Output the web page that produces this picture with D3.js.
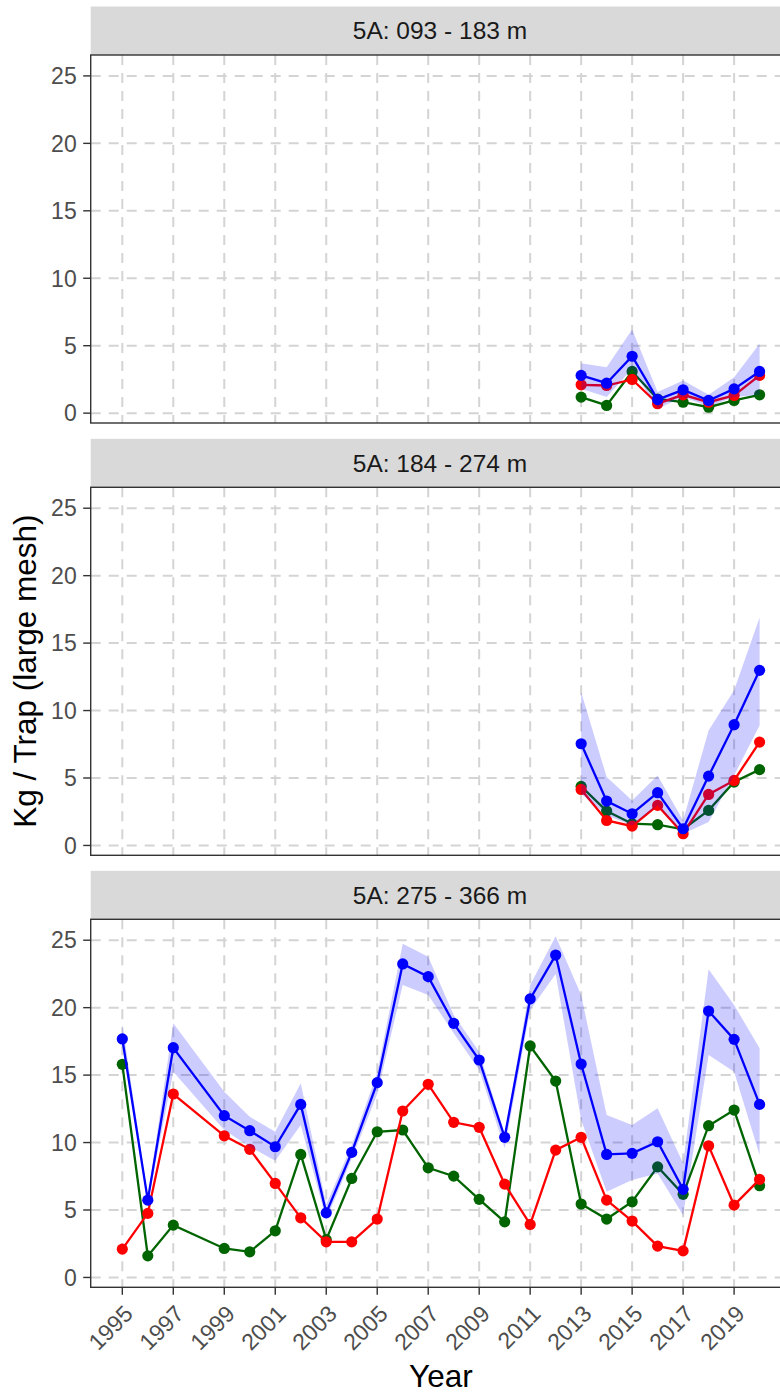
<!DOCTYPE html>
<html>
<head>
<meta charset="utf-8">
<script src="https://cdn.jsdelivr.net/npm/d3@7"></script>
<style>
  body { margin: 0; background: #fff; }
  svg { display: block; font-family: "Liberation Sans", Arial, sans-serif; }
</style>
</head>
<body>
<div id="chart"></div>
<script>
// depth strata, one panel each
const strata = ['5A: 093 - 183 m', '5A: 184 - 274 m', '5A: 275 - 366 m']

// 093 - 183 m
const years_shallow = [2013, 2014, 2015, 2016, 2017, 2018, 2019, 2020]
const blue_shallow  = [2.8, 2.22, 4.22, 1.01, 1.73, 0.94, 1.8, 3.09]
const red_shallow   = [2.1, 2.05, 2.5, 0.7, 1.36, 0.81, 1.31, 2.8]
const green_shallow = [1.19, 0.57, 3.09, 1.05, 0.81, 0.44, 0.94, 1.36]
const lo_shallow    = [1.8, 1.19, 3.3, 0.33, 1.19, 0.5, 1.19, 1.36]
const hi_shallow    = [3.7, 3.4, 6.2, 1.56, 2.42, 1.36, 2.67, 5.14]

// 184 - 274 m
const years_mid = [2013, 2014, 2015, 2016, 2017, 2018, 2019, 2020]
const blue_mid  = [7.54, 3.29, 2.35, 3.91, 1.24, 5.14, 8.95, 12.98]
const red_mid   = [4.15, 1.85, 1.43, 2.97, 0.87, 3.78, 4.82, 7.66]
const green_mid = [4.38, 2.55, 1.61, 1.54, 1.2, 2.6, 4.7, 5.62]
const lo_mid    = [3.84, 2.23, 1.48, 2.97, 0.87, 1.73, 5.19, 8.9]
const hi_mid    = [11.37, 5.07, 3.34, 5.19, 1.85, 8.53, 11.5, 16.89]

// 275 - 366 m (no 1998 survey)
const years_deep = [1995, 1996, 1997, 1999, 2000, 2001, 2002, 2003, 2004, 2005, 2006, 2007, 2008,
                    2009, 2010, 2011, 2012, 2013, 2014, 2015, 2016, 2017, 2018, 2019, 2020]
const blue_deep  = [17.68, 5.73, 17.03, 11.99, 10.88, 9.69, 12.83, 4.79, 9.27, 14.44, 23.24, 22.3, 18.84,
                    16.12, 10.39, 20.65, 23.9, 15.82, 9.12, 9.2, 10.06, 6.53, 19.75, 17.65, 12.83]
const red_deep   = [2.1, 4.75, 13.6, 10.5, 9.5, 6.97, 4.42, 2.64, 2.64, 4.33, 12.34, 14.32, 11.5,
                    11.13, 6.92, 3.93, 9.44, 10.39, 5.73, 4.18, 2.32, 1.97, 9.76, 5.36, 7.27]
const green_deep = [15.8, 1.6, 3.88, 2.15, 1.9, 3.46, 9.12, 2.8, 7.34, 10.8, 10.93, 8.13, 7.51,
                    5.79, 4.12, 17.16, 14.56, 5.44, 4.33, 5.61, 8.2, 6.16, 11.25, 12.41, 6.8]
const lo_deep    = [17.4, 5.55, 15.25, 10.93, 9.69, 8.65, 11.3, 4.3, 8.8, 13.6, 21.68, 20.94, 18.1,
                    15.38, 9.57, 19.83, 22.5, 11.67, 6.35, 7.22, 7.71, 4.62, 16.49, 15.25, 9.07]
const hi_deep    = [18.8, 6.0, 18.84, 13.77, 11.91, 10.8, 14.39, 5.4, 9.8, 15.2, 24.73, 23.78, 19.46,
                    16.74, 10.68, 21.68, 25.3, 20.94, 12.04, 11.3, 12.54, 8.46, 22.85, 20.2, 16.99]

const y_ticks = [0, 5, 10, 15, 20, 25]
const x_ticks = [1995, 1997, 1999, 2001, 2003, 2005, 2007, 2009, 2011, 2013, 2015, 2017, 2019]

const panels = [
  {label: strata[0], years: years_shallow, blue: blue_shallow, red: red_shallow, green: green_shallow, lo: lo_shallow, hi: hi_shallow},
  {label: strata[1], years: years_mid, blue: blue_mid, red: red_mid, green: green_mid, lo: lo_mid, hi: hi_mid},
  {label: strata[2], years: years_deep, blue: blue_deep, red: red_deep, green: green_deep, lo: lo_deep, hi: hi_deep}
]

const svg_width = 780
const svg_height = 1395
const plot_left = 90.7
const plot_right = 791.2   // right edge falls just outside the picture
const panel_tops = [55, 487.3, 919.3]
const panel_height = 368
const strip_height = 48.5

const xScale = d3.scaleLinear()
        .domain([1993.76, 2021.24])
        .range([plot_left, plot_right])

const yScale = d3.scaleLinear()
        .domain([-0.73, 26.55])
        .range([panel_height, 0])

const series = [
  {key: 'green', color: '#006400'},
  {key: 'red', color: '#ff0000'},
  {key: 'blue', color: '#0000ff'}
]

const svg = d3.select('#chart')
            .append('svg')
            .attr('width', svg_width)
            .attr('height', svg_height)

panels.forEach((p, i) => {
  const top = panel_tops[i]
  const rows = p.years.map((yr, j) => ({year: yr, blue: p.blue[j], red: p.red[j], green: p.green[j], lo: p.lo[j], hi: p.hi[j]}))

  // strip
  svg.append('rect')
      .attr('x', plot_left)
      .attr('y', top - strip_height)
      .attr('width', plot_right - plot_left)
      .attr('height', strip_height)
      .attr('fill', '#d9d9d9')
  svg.append('text')
      .attr('x', (plot_left + plot_right) / 2 - 1)
      .attr('y', top - strip_height / 2)
      .attr('dy', '0.35em')
      .attr('text-anchor', 'middle')
      .attr('font-size', '24.5px')
      .attr('fill', '#1a1a1a')
      .text(p.label)

  const g = svg.append('g').attr('transform', `translate(0,${top})`)

  // grid
  g.selectAll('line.hgrid')
    .data(y_ticks)
    .join('line')
      .attr('class', 'hgrid')
      .attr('x1', plot_left).attr('x2', plot_right)
      .attr('y1', d => yScale(d)).attr('y2', d => yScale(d))
  g.selectAll('line.vgrid')
    .data(x_ticks)
    .join('line')
      .attr('class', 'vgrid')
      .attr('x1', d => xScale(d)).attr('x2', d => xScale(d))
      .attr('y1', 0).attr('y2', panel_height)
  g.selectAll('line.hgrid, line.vgrid')
      .attr('stroke', '#d4d4d4')
      .attr('stroke-width', 2)
      .attr('stroke-dasharray', '10,8')

  // lines and points
  series.forEach(s => {
    const line = d3.line()
        .x(d => xScale(d.year))
        .y(d => yScale(d[s.key]))
    g.append('path')
        .datum(rows)
        .attr('d', line)
        .attr('fill', 'none')
        .attr('stroke', s.color)
        .attr('stroke-width', 2.3)
    g.selectAll(`circle.${s.key}`)
      .data(rows)
      .join('circle')
        .attr('class', s.key)
        .attr('cx', d => xScale(d.year))
        .attr('cy', d => yScale(d[s.key]))
        .attr('r', 5.6)
        .attr('fill', s.color)
  })

  // confidence ribbon drawn on top, semi transparent
  const area = d3.area()
      .x(d => xScale(d.year))
      .y0(d => yScale(d.lo))
      .y1(d => yScale(d.hi))
  g.append('path')
      .datum(rows)
      .attr('d', area)
      .attr('fill', '#0000ff')
      .attr('fill-opacity', 0.2)

  // panel border
  g.append('rect')
      .attr('x', plot_left)
      .attr('y', 0)
      .attr('width', plot_right - plot_left)
      .attr('height', panel_height)
      .attr('fill', 'none')
      .attr('stroke', '#333333')
      .attr('stroke-width', 1.4)

  // y axis ticks + labels
  g.selectAll('line.ytick')
    .data(y_ticks)
    .join('line')
      .attr('class', 'ytick')
      .attr('x1', plot_left - 7.5).attr('x2', plot_left)
      .attr('y1', d => yScale(d)).attr('y2', d => yScale(d))
      .attr('stroke', '#333333')
      .attr('stroke-width', 1.4)
  g.selectAll('text.ylab')
    .data(y_ticks)
    .join('text')
      .attr('class', 'ylab')
      .attr('x', plot_left - 14)
      .attr('y', d => yScale(d))
      .attr('dy', '0.36em')
      .attr('text-anchor', 'end')
      .attr('font-size', '23px')
      .attr('fill', '#4d4d4d')
      .text(d => d)

  // x axis only under the bottom panel
  if (i === panels.length - 1) {
    g.selectAll('line.xtick')
      .data(x_ticks)
      .join('line')
        .attr('class', 'xtick')
        .attr('x1', d => xScale(d)).attr('x2', d => xScale(d))
        .attr('y1', panel_height).attr('y2', panel_height + 7.5)
        .attr('stroke', '#333333')
        .attr('stroke-width', 1.4)
    g.selectAll('text.xlab')
      .data(x_ticks)
      .join('text')
        .attr('class', 'xlab')
        .attr('transform', d => `translate(${xScale(d) + 12},${panel_height + 28}) rotate(-45)`)
        .attr('text-anchor', 'end')
        .attr('font-size', '23px')
        .attr('fill', '#4d4d4d')
        .text(d => d)
  }
})

// axis titles
svg.append('text')
    .attr('transform', `translate(36,${(panel_tops[0] + panel_tops[2] + panel_height) / 2}) rotate(-90)`)
    .attr('text-anchor', 'middle')
    .attr('font-size', '31.5px')
    .attr('fill', '#000')
    .text('Kg / Trap (large mesh)')

svg.append('text')
    .attr('x', (plot_left + plot_right) / 2)
    .attr('y', 1387)
    .attr('text-anchor', 'middle')
    .attr('font-size', '31.5px')
    .attr('fill', '#000')
    .text('Year')
</script>
</body>
</html>
